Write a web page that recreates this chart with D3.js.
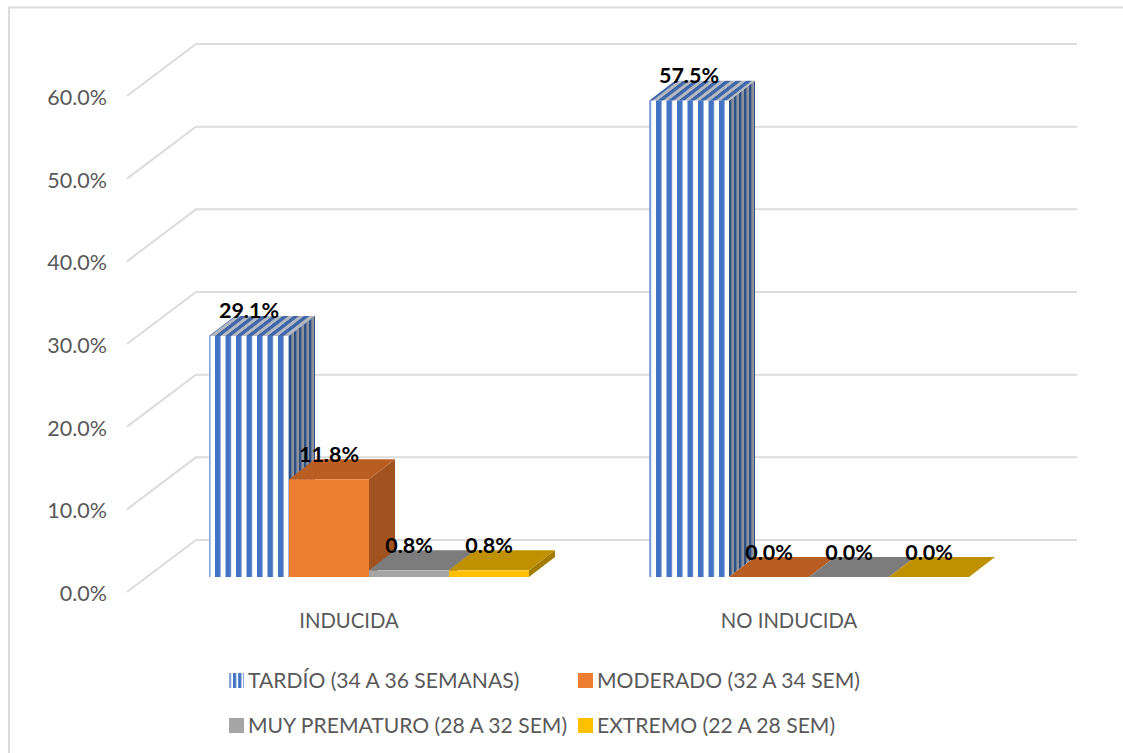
<!DOCTYPE html>
<html><head><meta charset="utf-8">
<script src="https://cdn.jsdelivr.net/npm/d3@7"></script>
<style>html,body{margin:0;padding:0;background:#fff}svg{display:block}text{font-family:Lato,"Open Sans",sans-serif}</style>
</head><body><div id="c"></div>
<script>
const categories = ["INDUCIDA", "NO INDUCIDA"];
const seriesNames = ["TARDÍO (34 A 36 SEMANAS)", "MODERADO (32 A 34 SEM)", "MUY PREMATURO (28 A 32 SEM)", "EXTREMO (22 A 28 SEM)"];
const tardio = [29.1, 57.5];
const moderado = [11.8, 0.0];
const muyPrematuro = [0.8, 0.0];
const extremo = [0.8, 0.0];
const seriesValues = [tardio, moderado, muyPrematuro, extremo];
const yTicks = [0, 10, 20, 30, 40, 50, 60];

const W = 1123, H = 753;
const svg = d3.select("#c").append("svg").attr("width", W).attr("height", H);
const defs = svg.append("defs");
function stripes(id, period, a, aw, b, transform) {
  const p = defs.append("pattern").attr("id", id).attr("patternUnits", "userSpaceOnUse")
    .attr("width", period).attr("height", 10);
  if (transform) p.attr("patternTransform", transform);
  p.append("rect").attr("width", period).attr("height", 10).attr("fill", b);
  p.append("rect").attr("width", aw).attr("height", 10).attr("fill", a);
}
const k = Math.atan(26 / 20) * 180 / Math.PI;
stripes("pFront", 10.5, "#4472c4", 5.5, "#ffffff", "translate(215,0)");
stripes("pTop", 10.5, "#3f66a8", 5.5, "#b4b8c0", "translate(215,336) skewX(" + (-k) + ")");
stripes("pSide", 5, "#2f5085", 2.4, "#8c929c", "translate(289,0)");
stripes("pLegend", 5.2, "#4472c4", 3.2, "#ffffff", "translate(233,0)");

const faces = [
  {front: "url(#pFront)", top: "url(#pTop)", side: "url(#pSide)"},
  {front: "#ed7d31", top: "#b85e22", side: "#a0531f"},
  {front: "#a5a5a5", top: "#7c7c7c", side: "#636363"},
  {front: "#ffc000", top: "#bf9000", side: "#a37b00"}
];
const legendFill = ["url(#pLegend)", "#ed7d31", "#a5a5a5", "#ffc000"];

// scales
const yAxisScale = d3.scaleLinear().domain([0, 60]).range([592, 96]);
const yBar = d3.scaleLinear().domain([0, 60]).range([577, 80]);
const x0 = d3.scaleBand().domain(categories).range([129, 1009]);
const x1 = d3.scaleBand().domain(d3.range(4)).range([80, 400]);
const depthX = 26, depthY = 20;
const wallDX = 69, wallDY = 52, wallRight = 1077, wallFrontX = 127;

// chart frame
svg.append("path").attr("d", `M9,${H} V7.5 H${W}`).attr("fill", "none").attr("stroke", "#dcdcdc").attr("stroke-width", 2);

// walls
const grid = svg.append("g").attr("fill", "none").attr("stroke", "#dcdcdc").attr("stroke-width", 2);
yTicks.forEach(t => {
  const y = yAxisScale(t);
  grid.append("polyline").attr("points", [[wallFrontX, y], [wallFrontX + wallDX, y - wallDY], [wallRight, y - wallDY]].join(" "));
});

// axes
const yAxis = svg.append("g").attr("transform", "translate(107,1.5)")
  .call(d3.axisLeft(yAxisScale).tickValues(yTicks).tickSize(0).tickPadding(0).tickFormat(d => d.toFixed(1) + "%"));
yAxis.select(".domain").remove();
yAxis.selectAll("text").attr("fill", "#595959").style("font-size", "21.5px").style("font-family", "Lato");
const xAxis = svg.append("g").attr("transform", "translate(0,614)")
  .call(d3.axisBottom(x0).tickSize(0).tickPadding(0));
xAxis.select(".domain").remove();
xAxis.selectAll("text").attr("fill", "#595959").style("font-size", "20.3px").style("font-family", "Lato");

// bars
const labels = [];
categories.forEach((cat, c) => {
  seriesValues.forEach((vals, s) => {
    const v = vals[c], x = x0(cat) + x1(s), w = x1.bandwidth(), yt = yBar(v), yb = yBar(0);
    const g = svg.append("g");
    g.append("path").attr("fill", faces[s].side)
      .attr("d", `M${x + w},${yb} L${x + w + depthX},${yb - depthY} L${x + w + depthX},${yt - depthY} L${x + w},${yt} Z`);
    g.append("path").attr("fill", faces[s].top)
      .attr("d", `M${x},${yt} L${x + depthX},${yt - depthY} L${x + w + depthX},${yt - depthY} L${x + w},${yt} Z`);
    if (v > 0) g.append("rect").attr("x", x).attr("y", yt).attr("width", w).attr("height", yb - yt).attr("fill", faces[s].front);
    if (s === 0) g.append("rect").attr("x", x).attr("y", yt).attr("width", 1.6).attr("height", yb - yt).attr("fill", "#8faadc");
    labels.push({x: x + w / 2, y: yt - 25, t: v.toFixed(1) + "%"});
  });
});
svg.append("g").selectAll("text").data(labels).join("text")
  .attr("x", d => d.x).attr("y", d => d.y).attr("dy", "0.35em").attr("text-anchor", "middle")
  .attr("fill", "#000").style("font-size", "21.5px").style("font-weight", "700").text(d => d.t);

// legend
const legendPos = [[229, 673], [578, 673], [229, 718], [578, 718]];
const legend = svg.append("g");
seriesNames.forEach((n, i) => {
  const [lx, ly] = legendPos[i];
  legend.append("rect").attr("x", lx).attr("y", ly).attr("width", 15).attr("height", 15).attr("fill", legendFill[i]);
  if (i === 0) legend.append("rect").attr("x", lx).attr("y", ly).attr("width", 1.5).attr("height", 15).attr("fill", "#8faadc");
  legend.append("text").attr("x", lx + 19).attr("y", ly + 7.5).attr("dy", "0.35em").attr("fill", "#595959").style("font-size", "21.1px").text(n);
});
</script></body></html>
